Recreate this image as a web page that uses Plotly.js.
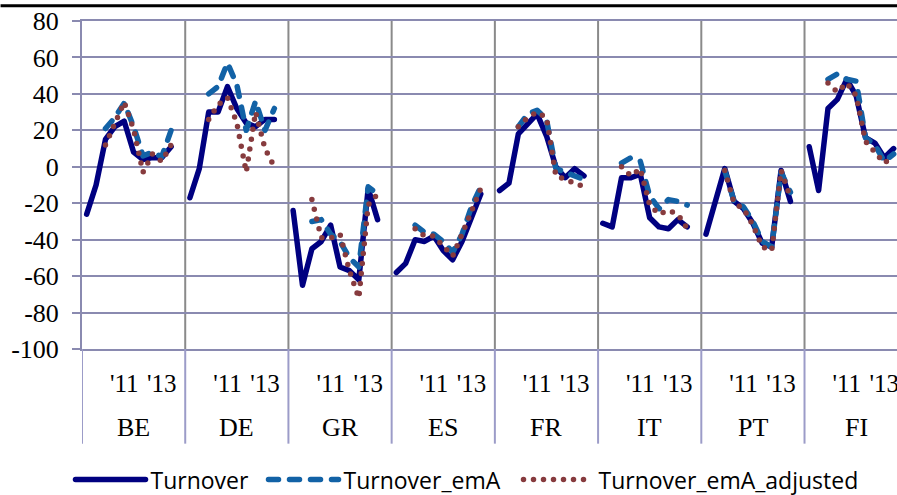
<!DOCTYPE html>
<html><head><meta charset="utf-8">
<script src="https://cdn.plot.ly/plotly-3.0.1.min.js"></script>
<style>
html,body{margin:0;padding:0;background:#fff;}
#chart{width:897px;height:495px;}
.js-line{stroke-linecap:round;stroke-linejoin:round;}
</style></head><body><div id="chart"></div>
<script>
// ---- data ----
const countries = ['BE','DE','GR','ES','FR','IT','PT','FI'];
const slotsPerPanel = 11;          // ten half-year points + one blank slot per country
const yearTickSlots = [4, 8];
const yearTickLabels = ["'11", "'13"];
const yTickValues = [80, 60, 40, 20, 0, -20, -40, -60, -80, -100];
const seriesNames = ['Turnover', 'Turnover_emA', 'Turnover_emA_adjusted'];

const turnover = [
  [-26, -10, 15, 22, 25, 8, 4, 5, 5, 11],       // BE
  [-17, -1, 30, 30, 44, 32, 24, 22, 26, 26],    // DE
  [-24, -65, -45, -41, -32, -55, -57, -62, -12, -29], // GR
  [-58, -53, -40, -41, -38, -46, -51, -41, -28, -15], // ES
  [-13, -9, 18, 23, 29, 17, 0, -6, -1, -5],     // FR
  [-31, -33, -6, -6, -4, -28, -33, -34, -29, -33], // IT
  [-37, -18, -1, -19, -23, -31, -42, -44, -2, -19], // PT
  [11, -13, 32, 37, 48, 39, 16, 13, 5, 10]      // FI
];
const turnoverEmA = [
  [null, null, 21, 27, 35, 22, 6, 8, 5.5, 20],
  [null, null, 40, 44, 57, 45, 20, 36, 20, 32],
  [null, null, -30, -29, -37, -41, -50, -55, -11, -15],
  [null, null, -32, -36, -37, -41, -47, -37, -22, -11],
  [null, null, 22, 29, 31, 26, -1, -3, -5, -7],
  [null, null, 2, 5, 3, -16, -23, -18, -19, -21],
  [null, null, -2, -19, -22, -30, -41, -44, -3, -14],
  [null, null, 48, 51, 48, 47, 16, 12, 3, 7]
];
const turnoverEmAAdjusted = [
  [null, null, 12, 23, 35.5, 20.5, -3, 7, 3, 12],
  [null, null, 26, 34, 38, 24, -3, 30, 10, 0],
  [null, null, -18, -39, -39, -37, -57, -72, -21, -15],
  [null, null, -34, -38, -38, -43, -49, -37, -24, -12],
  [null, null, 22, 27, 30, 27, -5, -7, -9, -11],
  [null, null, 0, -5, -1, -21, -26, -24, -26, -34],
  [null, null, -2, -20, -23, -32, -44, -46, -2, -17],
  [null, null, 46, 41, 46, 39, 14, 8, 2, 6]
];

// ---- build ----
function flatten(series) {
  const xs = [], ys = [];
  series.forEach((vals, p) => {
    vals.forEach((v, i) => { xs.push(p * slotsPerPanel + i + 0.5); ys.push(v); });
    xs.push(p * slotsPerPanel + slotsPerPanel - 0.5); ys.push(null);
  });
  return {xs, ys};
}
const styles = [
  {color: '#000080', width: 5.5, dash: 'solid'},
  {color: '#1262A6', width: 5.5, dash: '10px,11px'},
  {color: '#873B3E', width: 5.5, dash: '0px,10px'}
];
const legendWidths = [108, 170, 270];
const traces = [turnover, turnoverEmA, turnoverEmAAdjusted].map((s, k) => {
  const f = flatten(s);
  return {x: f.xs, y: f.ys, type: 'scatter', mode: 'lines', name: seriesNames[k],
          legendwidth: legendWidths[k],
          line: styles[k], connectgaps: false, hoverinfo: 'skip'};
});

const tickvals = [], ticktext = [];
countries.forEach((c, p) => yearTickSlots.forEach((s, j) => {
  tickvals.push(p * slotsPerPanel + s + 0.5); ticktext.push(yearTickLabels[j]);
}));

const GRID = '#8A8AB0';
const plotL = 81.5, plotR = 897, plotT = 20.7, plotB = 349.2;
const plotW = plotR - plotL, plotH = plotB - plotT;
const pyOf = px => (plotB - px) / plotH;   // page pixel y -> paper y
const panelPx = 103.28;
const xMax = plotW / panelPx * slotsPerPanel;
const SERIF = 'Liberation Serif';

const shapes = [];
for (let p = 1; p < countries.length; p++) {
  shapes.push({type: 'line', xref: 'x', yref: 'paper', x0: p * slotsPerPanel, x1: p * slotsPerPanel,
               y0: 0, y1: 1, line: {color: '#8A8A8A', width: 2}, layer: 'below'});
}
for (let p = 0; p < countries.length; p++) {
  shapes.push({type: 'line', xref: 'x', yref: 'paper', x0: p * slotsPerPanel, x1: p * slotsPerPanel,
               y0: pyOf(444), y1: 0, line: {color: '#9C9CC8', width: 2}});
}
shapes.push({type: 'line', xref: 'paper', yref: 'paper', x0: -plotL / plotW, x1: 1,
             y0: pyOf(5.5), y1: pyOf(5.5), line: {color: '#000', width: 3}});

const annotations = countries.map((c, p) => ({
  x: p * slotsPerPanel + slotsPerPanel / 2, xref: 'x', y: pyOf(428), yref: 'paper',
  text: c, showarrow: false, yanchor: 'middle', xanchor: 'center',
  font: {family: SERIF, size: 26, color: '#000'}
}));

const layout = {
  width: 897, height: 495,
  font: {family: SERIF, size: 25, color: '#000'},
  margin: {l: plotL, r: 0, t: plotT, b: 495 - plotB, pad: 0, autoexpand: false},
  paper_bgcolor: '#fff', plot_bgcolor: '#fff',
  showlegend: true,
  legend: {orientation: 'h', x: (70 - plotL) / plotW, y: pyOf(480), xanchor: 'left', yanchor: 'middle',
           font: {family: 'Open Sans', size: 23, color: '#000'}, itemwidth: 70, traceorder: 'normal',
           bgcolor: 'rgba(0,0,0,0)'},
  xaxis: {range: [0, xMax], tickmode: 'array', tickvals: tickvals, ticktext: ticktext,
          showgrid: false, zeroline: false, showline: true, mirror: true, linecolor: GRID, linewidth: 2,
          ticks: '', tickangle: 0, ticklabelstandoff: 11, ticklabeloverflow: 'allow',
          tickfont: {family: SERIF, size: 25, color: '#000'}, fixedrange: true},
  yaxis: {range: [-100, 80], tickmode: 'array', tickvals: yTickValues, ticktext: yTickValues.map(String),
          showgrid: true, gridcolor: GRID, gridwidth: 2,
          zeroline: false, showline: true, linecolor: GRID, linewidth: 2,
          ticks: 'outside', ticklen: 8, tickwidth: 2, tickcolor: GRID, ticklabelstandoff: 8,
          tickfont: {family: SERIF, size: 26, color: '#000'}, fixedrange: true},
  shapes: shapes, annotations: annotations
};

Plotly.newPlot('chart', traces, layout, {displayModeBar: false, staticPlot: true});
</script></body></html>
